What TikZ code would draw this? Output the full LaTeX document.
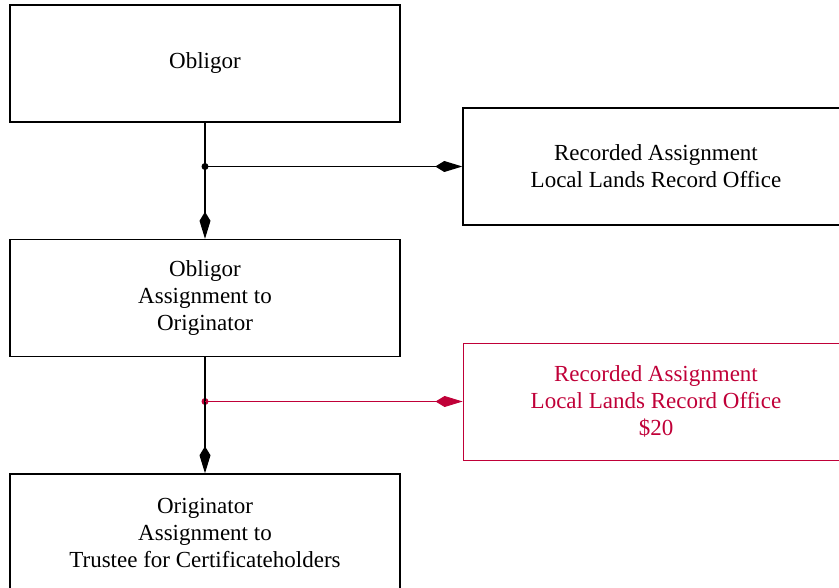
\documentclass[tikz,border=0pt]{standalone}
\usepackage{fontspec}
\setmainfont{Liberation Serif}
\usetikzlibrary{arrows.meta}
\definecolor{feered}{RGB}{192,0,56}

\begin{document}
\begin{tikzpicture}[x=1pt,y=-1pt,>={Kite[length=27pt,width=11pt,inset=9pt]},
  box/.style={draw,line width=1.4pt,minimum width=390pt,minimum height=117pt,align=center,font=\fontsize{23}{27}\selectfont},
  office/.style={box,minimum width=386pt},
  fee/.style={office,draw=feered,text=feered,line width=0.8pt},
  joint/.style={circle,fill,inner sep=0pt,minimum size=7pt}]
\useasboundingbox (0,0) rectangle (839,588);

% left column
\node[box](obligor) at (205,63.5){Obligor};
\node[box](oblassign) at (205,298){Obligor\\Assignment to\\Originator};
\node[box](origassign) at (205,532.5){Originator\\Assignment to\\Trustee for Certificateholders};

% recording offices
\node[office](recorded) at (656,166.5){Recorded Assignment\\Local Lands Record Office};
\node[fee](recfee) at (656,401.5){Recorded Assignment\\Local Lands Record Office\\\$20};

% connectors
\node[joint](j1) at (205,166.5){};
\node[joint,feered](j2) at (205,401.5){};
\draw[line width=1.4pt](obligor.south)--(j1.center);
\draw[line width=1.4pt,->](j1.center)--(oblassign.north);
\draw[line width=1.2pt,->](j1.center)--(recorded.west);
\draw[line width=1.4pt](oblassign.south)--(j2.center);
\draw[line width=1.4pt,->](j2.center)--(origassign.north);
\draw[feered,line width=0.9pt,->](j2.center)--(recfee.west);
\end{tikzpicture}
\end{document}
